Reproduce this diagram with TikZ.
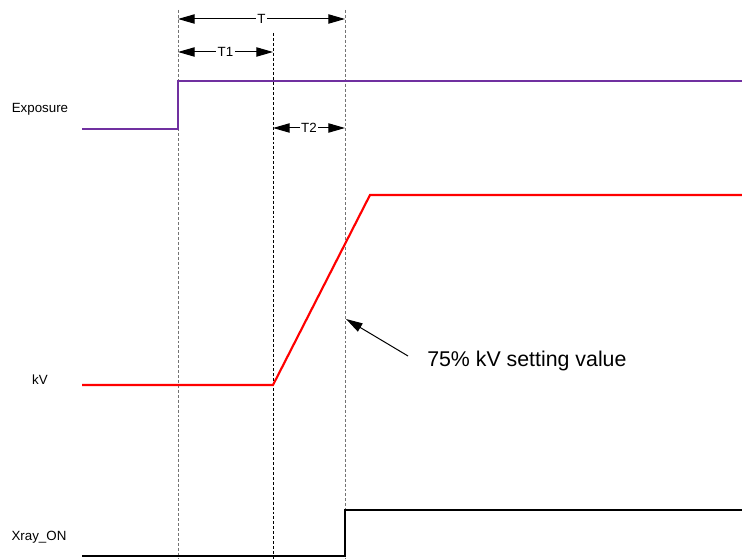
\documentclass[tikz,border=0pt]{standalone}
\usepackage{fontspec}
\setmainfont{Liberation Sans}
\usetikzlibrary{arrows.meta}
\begin{document}
\begin{tikzpicture}[x=0.75pt,y=-0.75pt,
  guide/.style={dash pattern=on 2.2pt off 1.5pt, line width=0.75pt, draw=black!55},
  guideblack/.style={dash pattern=on 2.2pt off 1.5pt, line width=0.7pt, draw=black},
  sig/.style={line width=1.6pt},
  lbl/.style={font=\fontsize{10pt}{12pt}\selectfont, inner sep=0pt},
  dim/.style={line width=0.75pt, {Triangle[length=12.5pt,width=7pt]}-{Triangle[length=12.5pt,width=7pt]}},
  dimlbl/.style={font=\fontsize{10pt}{12pt}\selectfont, fill=white, inner sep=1pt},
  note/.style={line width=0.75pt, -{Triangle[length=12.5pt,width=7pt]}}]
\useasboundingbox (0,0) rectangle (742,559);
% guide coordinates
\coordinate (gAtop) at (178,10);   \coordinate (gAbot) at (178,559);
\coordinate (gBtop) at (273,33);   \coordinate (gBbot) at (273,559);
\coordinate (gCtop) at (345,10);   \coordinate (gCbot) at (345,559);
\draw[guide] (gAtop) -- (gAbot);
\draw[guideblack] (gBtop) -- (gBbot);
\draw[guide] (gCtop) -- (gCbot);
% dimension arrows
\coordinate (tA) at (178,19); \coordinate (tC) at (345,19);
\draw[dim] (tA) -- node[dimlbl] (T) {T} (tC);
\coordinate (t1A) at (178,52); \coordinate (t1B) at (273,52);
\draw[dim] (t1A) -- node[dimlbl] (T1) {T1} (t1B);
\coordinate (t2B) at (273,128); \coordinate (t2C) at (345,128);
\draw[dim] (t2B) -- node[dimlbl] (T2) {T2} (t2C);
% Exposure
\node[lbl] (lexp) at (40,109) {Exposure};
\coordinate (e0) at (82,129); \coordinate (e1) at (178,129);
\coordinate (e2) at (178,81); \coordinate (e3) at (742,81);
\draw[sig, draw={rgb,255:red,112;green,48;blue,160}] (e0) -- (e1) -- (e2) -- (e3);
% kV
\node[lbl] (lkv) at (40,380) {kV};
\coordinate (k0) at (82,385); \coordinate (k1) at (273,385);
\coordinate (k2) at (370,195); \coordinate (k3) at (742,195);
\draw[sig, draw={rgb,255:red,255;green,0;blue,0}, line join=miter] (k0) -- (k1) -- (k2) -- (k3);
% Xray_ON
\node[lbl] (lx) at (39,537) {Xray\_ON};
\coordinate (x0) at (82,556); \coordinate (x1) at (345,556);
\coordinate (x2) at (345,510); \coordinate (x3) at (742,510);
\draw[sig, draw=black] (x0) -- (x1) -- (x2) -- (x3);
% annotation
\node[font=\fontsize{16pt}{19pt}\selectfont, anchor=west, inner sep=0pt] (note) at (427,361) {75\% kV setting value};
\coordinate (nfrom) at (408,356); \coordinate (nto) at (346,319);
\draw[note] (nfrom) -- (nto);
\end{tikzpicture}
\end{document}
